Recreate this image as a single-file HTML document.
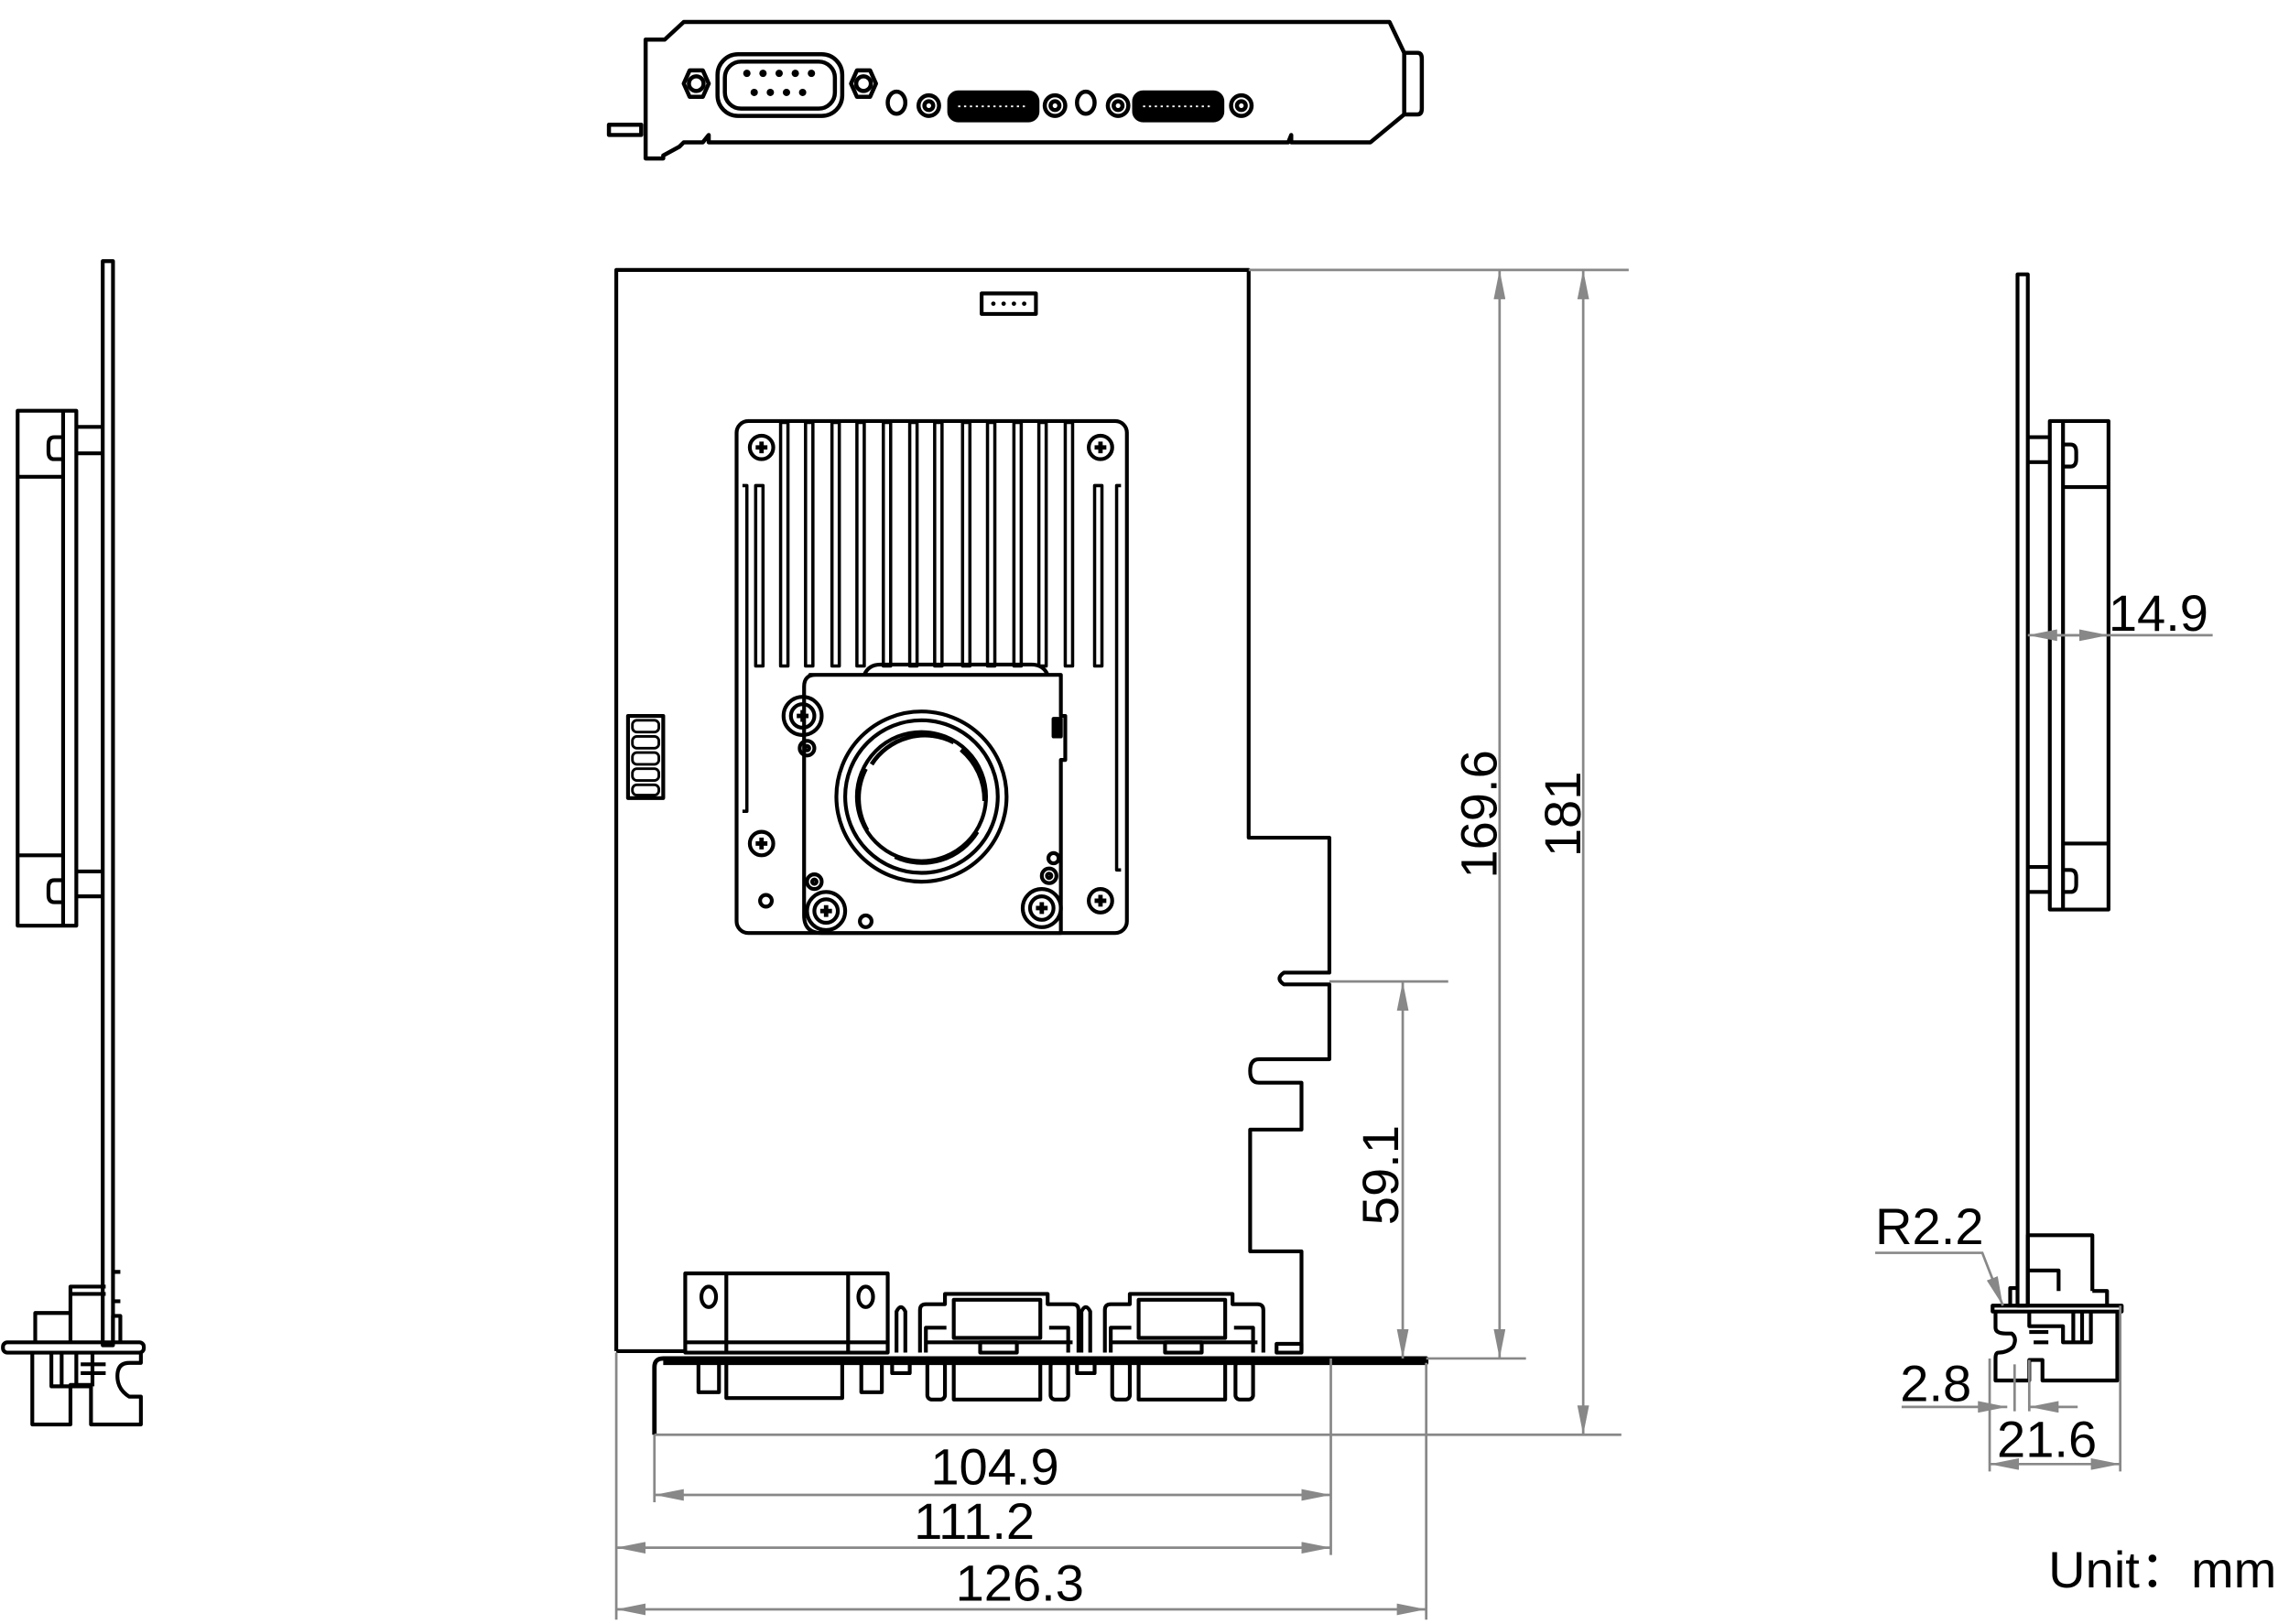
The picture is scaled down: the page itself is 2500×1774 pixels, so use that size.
<!DOCTYPE html>
<html><head><meta charset="utf-8"><style>
html,body{margin:0;padding:0;background:#fff;}
svg{display:block;}
text{font-family:"Liberation Sans",sans-serif;fill:#000;}
</style></head><body>
<svg width="2500" height="1774" viewBox="0 0 1560 1107" xmlns="http://www.w3.org/2000/svg">
<defs>
<marker id="a" viewBox="0 0 20 8" refX="20" refY="4" markerWidth="20" markerHeight="8" markerUnits="userSpaceOnUse" orient="auto-start-reverse"><path d="M0,0 L20,4 L0,8 Z" fill="#888"/></marker>
<g id="s" fill="none" stroke="#000" stroke-width="2.6"><circle cx="0" cy="0" r="8"/><path d="M-4,0 L4,0 M0,-4 L0,4" stroke-width="3"/></g>
</defs>
<g fill="none" stroke="#000" stroke-width="2.8" stroke-linejoin="round">
<!-- TOP BRACKET -->
<path d="M440,108 L440,27 L453,27 L466,15 L947,15 L957,36 L966,36 Q969,36 969,40 L969,74 Q969,78 966,78 L957,78 L934,97 L880,97 L880,92 L878,97 L483,97 L483,92 L479,97 L466,97 L463,100 L452,106 L452,108 Z"/>
<path d="M957,36 L957,78"/>
<path d="M415,85 L437,85 L437,92 L415,92 Z"/>
<rect x="489" y="37" width="85" height="42" rx="14"/>
<rect x="494" y="42" width="75" height="32" rx="11"/>
<path d="M466,57 L470,48 L479,48 L483,57 L479,66 L470,66 Z"/><circle cx="474.5" cy="57" r="5"/>
<path d="M580,57 L584,48 L593,48 L597,57 L593,66 L584,66 Z"/><circle cx="588.5" cy="57" r="5"/>
<g fill="#000" stroke="none">
<circle cx="509" cy="50" r="2.5"/><circle cx="520" cy="50" r="2.5"/><circle cx="531" cy="50" r="2.5"/><circle cx="542" cy="50" r="2.5"/><circle cx="553" cy="50" r="2.5"/>
<circle cx="514" cy="63" r="2.5"/><circle cx="525" cy="63" r="2.5"/><circle cx="536" cy="63" r="2.5"/><circle cx="547" cy="63" r="2.5"/>
</g>
<ellipse cx="611" cy="70" rx="6" ry="7.5"/>
<circle cx="633" cy="72" r="7"/><circle cx="633" cy="72" r="3"/>
<rect x="647" y="63" width="60" height="19" rx="6" fill="#000"/>
<circle cx="719" cy="72" r="7"/><circle cx="719" cy="72" r="3"/>
<ellipse cx="740" cy="70" rx="6" ry="7.5"/>
<circle cx="762" cy="72" r="7"/><circle cx="762" cy="72" r="3"/>
<rect x="773" y="63" width="60" height="19" rx="6" fill="#000"/>
<circle cx="846" cy="72" r="7"/><circle cx="846" cy="72" r="3"/>
</g>
<g stroke="#fff" stroke-width="1.2" stroke-dasharray="1.5 2.5"><path d="M653,72.5 L701,72.5 M779,72.5 L827,72.5"/></g>

<g fill="none" stroke="#000" stroke-width="2.6" stroke-linejoin="round">
<!-- MAIN BOARD -->
<path d="M420,921 L420,184 L851,184 L851,571 L906,571 L906,663 L875,663 Q869,667 875,671 L906,671 L906,722 L858,722 Q852,722 852,730 Q852,738 858,738 L887,738 L887,770 L852,770 L852,853 L887,853 L887,921"/>
<path d="M420,921 L468,921"/>
<rect x="669" y="200" width="37" height="14"/>
<g fill="#000" stroke="none"><circle cx="677" cy="207" r="1.5"/><circle cx="684" cy="207" r="1.5"/><circle cx="691" cy="207" r="1.5"/><circle cx="698" cy="207" r="1.5"/></g>
<rect x="428" y="488" width="24" height="56"/>
<g stroke-width="1.8"><rect x="431" y="491" width="18" height="8" rx="3"/><rect x="431" y="502" width="18" height="8" rx="3"/><rect x="431" y="513" width="18" height="8" rx="3"/><rect x="431" y="524" width="18" height="8" rx="3"/><rect x="431" y="535" width="18" height="7" rx="3"/></g>
<!-- heatsink -->
<rect x="502" y="287" width="266" height="349" rx="8"/>
<g stroke-width="2.2">
<rect x="532" y="288" width="5" height="166"/><rect x="549" y="288" width="5" height="166"/><rect x="567" y="288" width="5" height="166"/><rect x="584" y="288" width="5" height="166"/><rect x="602" y="288" width="5" height="166"/><rect x="620" y="288" width="5" height="166"/><rect x="637" y="288" width="5" height="166"/><rect x="656" y="288" width="5" height="166"/><rect x="673" y="288" width="5" height="166"/><rect x="691" y="288" width="5" height="166"/><rect x="708" y="288" width="5" height="166"/><rect x="726" y="288" width="5" height="166"/>
<rect x="515" y="331" width="5" height="123"/><rect x="746" y="331" width="5" height="123"/>
<path d="M506,331 L509,331 L509,553 L506,553 M764,331 L761,331 L761,593 L764,593"/>
</g>
<path d="M589,460 Q592,453 600,453 L703,453 Q711,453 714,460"/>
<path d="M552,460 L723,460 L723,488 L726,488 L726,518 L723,518 L723,636 L560,636 Q548,636 548,624 L548,468 Q548,460 556,460 Z" fill="#fff"/>
<rect x="718" y="490" width="5" height="12" fill="#000"/>
<circle cx="628" cy="543" r="58"/><circle cx="628" cy="543" r="52"/><circle cx="628" cy="543" r="44"/>
<g stroke-width="3"><path d="M594,521 A43 43 0 0 1 650,506"/><path d="M655,511 A45 45 0 0 1 671,546"/><path d="M666,567 A44 44 0 0 1 610,584"/><path d="M591,566 A44 44 0 0 1 590,524"/></g>
<!-- screws -->
<use href="#s" x="519" y="305"/><use href="#s" x="750" y="305"/><use href="#s" x="519" y="575"/><use href="#s" x="750" y="614"/>
<circle cx="547" cy="488" r="13"/><use href="#s" x="547" y="488"/>
<circle cx="563" cy="621" r="13"/><use href="#s" x="563" y="621"/>
<circle cx="710" cy="619" r="13"/><use href="#s" x="710" y="619"/>
<circle cx="550" cy="510" r="5"/><circle cx="550" cy="510" r="1.5"/>
<circle cx="555" cy="601" r="5"/><circle cx="555" cy="601" r="1.5"/>
<circle cx="715" cy="597" r="5"/><circle cx="715" cy="597" r="1.5"/>
<circle cx="718" cy="585" r="3.5"/>
<circle cx="522" cy="614" r="4"/><circle cx="590" cy="628" r="4"/>
<!-- bottom connectors -->
<rect x="467" y="868" width="138" height="54" fill="#fff"/>
<path d="M495,868 L495,922 M578,868 L578,922 M467,915 L605,915"/>
<ellipse cx="483" cy="884" rx="5" ry="7"/><ellipse cx="590" cy="884" rx="5" ry="7"/>
<rect x="476" y="928" width="14" height="21"/><rect x="587" y="928" width="14" height="21"/>
<rect x="495" y="928" width="79" height="25"/>
<g id="c">
<path d="M627,922 L627,893 Q627,889 631,889 L644,889 L644,882 L714,882 L714,889 L731,889 Q735,889 735,893 L735,922"/>
<rect x="650" y="886" width="59" height="26"/>
<path d="M631,922 L631,905 L645,905 M728,922 L728,905 L715,905 M631,915 L731,915"/>
<rect x="668" y="915" width="25" height="7"/>
<rect x="632" y="928" width="12" height="26" rx="3"/><rect x="716" y="928" width="12" height="26" rx="3"/>
<rect x="650" y="928" width="59" height="26"/>
<path d="M611,922 L611,894 Q614,888 617,894 L617,922 M608,928 L620,928 L620,936 L608,936 Z"/>
</g>
<use href="#c" x="126" y="0"/>
<rect x="870" y="916" width="17" height="6"/>
<!-- bracket foot -->
<path d="M446,978 L446,932 Q446,926 452,926 L972,926 L972,929 L452,929" stroke-width="3"/>

<!-- LEFT SIDE VIEW -->
<rect x="70" y="178" width="7" height="739"/>
<rect x="12" y="280" width="40" height="351"/>
<path d="M43,280 L43,631 M12,325 L43,325 M12,583 L43,583"/>
<path d="M43,298 L37,298 Q33,298 33,303 L33,308 Q33,313 37,313 L43,313"/>
<path d="M43,600 L37,600 Q33,600 33,605 L33,610 Q33,615 37,615 L43,615"/>
<path d="M52,291 L70,291 M52,309 L70,309 M52,594 L70,594 M52,611 L70,611"/>
<path d="M77,867 L82,867 M77,887 L82,887"/>
<path d="M77,915 L77,897 L82,897 L82,915"/>
<path d="M48,915 L48,877 L72,877 M48,882 L72,882"/>
<path d="M24,915 L24,895 L48,895"/>
<rect x="2" y="915" width="96" height="7" rx="3"/>
<path d="M22,922 L22,971 L48,971 L48,944 L62,944 L62,971 L96,971 L96,952 L88,952 Q80,947 80,938 Q80,929 88,929 L96,929 L96,922"/>
<path d="M35,922 L35,945 L62,945 M42,922 L42,945 M52,922 L52,945 M63,922 L63,945 M55,930 L72,930 M55,936 L72,936"/>

<!-- RIGHT SIDE VIEW -->
<rect x="1375" y="187" width="7" height="703"/>
<rect x="1397" y="287" width="40" height="333"/>
<path d="M1406,287 L1406,620 M1406,332 L1437,332 M1406,575 L1437,575"/>
<path d="M1406,303 L1411,303 Q1415,303 1415,308 L1415,313 Q1415,318 1411,318 L1406,318"/>
<path d="M1406,593 L1411,593 Q1415,593 1415,598 L1415,603 Q1415,608 1411,608 L1406,608"/>
<path d="M1382,298 L1397,298 M1382,315 L1397,315 M1382,591 L1397,591 M1382,608 L1397,608"/>
<path d="M1382,890 L1382,842 L1426,842 L1426,880 M1382,866 L1403,866 L1403,880 M1370,890 L1370,878 L1375,878 M1426,880 L1436,880 L1436,890"/>
<rect x="1358" y="890" width="88" height="4"/>
<path d="M1360,894 L1360,905 Q1360,909 1367,909 L1371,909 Q1375,912 1372,918 Q1368,922 1362,922 Q1360,922 1360,926 L1360,941 L1383,941 L1383,927 L1392,927 L1392,941 L1443,941 L1443,894"/>
<path d="M1383,894 L1383,904 L1406,904 L1406,915 L1425,915 L1425,894 M1413,894 L1413,915 M1419,894 L1419,915 M1383,908 L1396,908 M1386,915 L1396,915"/>
</g>

<!-- DIMENSIONS -->
<g stroke="#888" stroke-width="1.7" fill="none">
<path d="M851,184 L1110,184 M972,926 L1040,926 M446,978 L1105,978 M906,669 L987,669"/>
<path d="M1022,926 L1022,184" marker-start="url(#a)" marker-end="url(#a)"/>
<path d="M1079,978 L1079,184" marker-start="url(#a)" marker-end="url(#a)"/>
<path d="M956,926 L956,669" marker-start="url(#a)" marker-end="url(#a)"/>
<path d="M420,922 L420,1104 M907,926 L907,1060 M972,929 L972,1104 M446,978 L446,1024"/>
<path d="M446,1019 L907,1019" marker-start="url(#a)" marker-end="url(#a)"/>
<path d="M420,1055 L907,1055" marker-start="url(#a)" marker-end="url(#a)"/>
<path d="M420,1097 L972,1097" marker-start="url(#a)" marker-end="url(#a)"/>
<path d="M1437,433 L1508,433"/>
<path d="M1437,433 L1382,433" marker-end="url(#a)"/>
<path d="M1402,433 L1437,433" marker-end="url(#a)"/>
<path d="M1278,854 L1351,854 L1365,890" marker-end="url(#a)"/>
<path d="M1296,959 L1368,959" marker-end="url(#a)"/>
<path d="M1416,959 L1383,959" marker-end="url(#a)"/>
<path d="M1356,926 L1356,1003 M1373,930 L1373,962 M1383,927 L1383,962 M1445,890 L1445,1003"/>
<path d="M1356,998 L1445,998" marker-start="url(#a)" marker-end="url(#a)"/>
</g>
<g font-size="35">
<text x="678" y="1012" text-anchor="middle">104.9</text>
<text x="664" y="1049" text-anchor="middle">111.2</text>
<text x="695" y="1091" text-anchor="middle">126.3</text>
<text transform="translate(1020,555) rotate(-90)" text-anchor="middle">169.6</text>
<text transform="translate(1077,555) rotate(-90)" text-anchor="middle">181</text>
<text transform="translate(953,801) rotate(-90)" text-anchor="middle">59.1</text>
<text x="1437" y="430">14.9</text>
<text x="1278" y="848">R2.2</text>
<text x="1295" y="955">2.8</text>
<text x="1361" y="993">21.6</text>
<text x="1396" y="1082" font-family="Liberation Sans, Noto Sans CJK SC, sans-serif">Unit：mm</text>
</g>
</svg>
</body></html>
